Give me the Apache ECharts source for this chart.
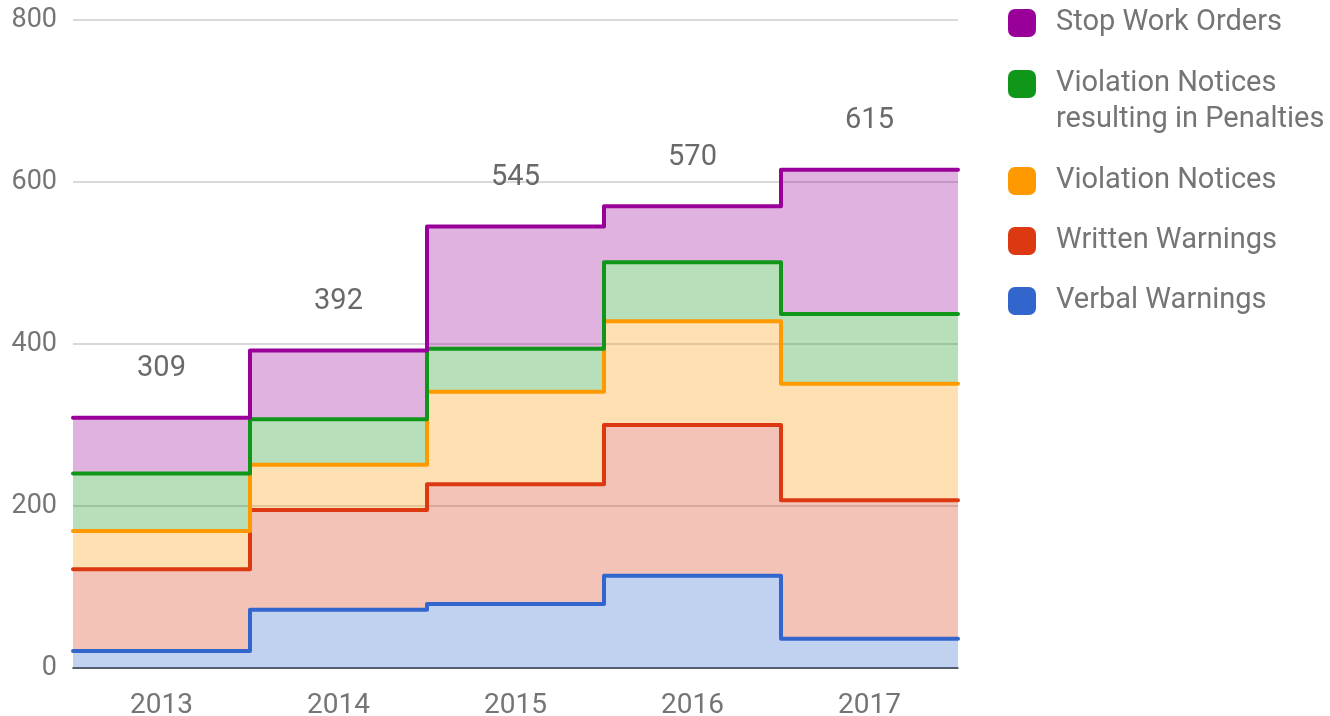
<!DOCTYPE html>
<html>
<head>
<meta charset="utf-8">
<script src="https://cdn.jsdelivr.net/npm/echarts@6/dist/echarts.min.js"></script>
<style>html,body{margin:0;padding:0;background:#fff}#c{width:1330px;height:716px}</style>
</head>
<body>
<div id="c"></div>
<script>
const years = ['2013', '2014', '2015', '2016', '2017'];
const verbalWarnings = [21, 72, 79, 114, 36];
const writtenWarnings = [101, 123, 148, 186, 171];
const violationNotices = [47, 56, 114, 128, 144];
const violationPenalties = [71, 56, 53, 73, 86];
const stopWorkOrders = [69, 85, 151, 69, 178];
const totals = [309, 392, 545, 570, 615];
const yTicks = [0, 200, 400, 600, 800];

const names = ['Stop Work Orders', 'Violation Notices resulting in Penalties', 'Violation Notices', 'Written Warnings', 'Verbal Warnings'];
const colors = {
  'Stop Work Orders': '#990099',
  'Violation Notices resulting in Penalties': '#109618',
  'Violation Notices': '#ff9900',
  'Written Warnings': '#dc3912',
  'Verbal Warnings': '#3366cc'
};
const FONT = 'Roboto';

// step edges: one point per band start, plus the closing edge of the last band
const edges = years.map((y, i) => String(i)).concat([String(years.length)]);
function stepData(arr) {
  return arr.concat([arr[arr.length - 1]]);
}
function areaSeries(name, arr) {
  return {
    name: name, type: 'line', xAxisIndex: 1, yAxisIndex: 0, stack: 'total', step: 'end',
    data: stepData(arr), showSymbol: false, symbol: 'none', color: colors[name],
    lineStyle: { width: 4, color: colors[name], cap: 'round', join: 'round' },
    areaStyle: { color: colors[name], opacity: 0.3 },
    emphasis: { disabled: true }
  };
}
const legendTops = [5, 30, 163, 223, 283];
const legends = names.map((n, i) => ({
  data: [n], orient: 'vertical', left: 1008, top: legendTops[i], padding: 0,
  itemWidth: 28, itemHeight: 28, icon: 'roundRect', selectedMode: false,
  formatter: n === 'Violation Notices resulting in Penalties' ? '\nViolation Notices\nresulting in Penalties' : '{name}',
  textStyle: { fontFamily: FONT, fontSize: 29, color: '#757575', lineHeight: 36, padding: [0, 0, 0, 15] }
}));

const chart = echarts.init(document.getElementById('c'), null, { renderer: 'canvas' });
chart.setOption({
  animation: false,
  backgroundColor: '#fff',
  grid: { left: 73, right: 372, top: 20, bottom: 48, containLabel: false, outerBoundsMode: 'none' },
  legend: legends,
  xAxis: [
    { type: 'category', data: years, boundaryGap: true,
      axisTick: { show: false },
      axisLine: { lineStyle: { color: '#333', width: 1.5 } },
      axisLabel: { fontFamily: FONT, fontSize: 28, color: '#757575', margin: 24 },
      splitLine: { show: false } },
    { type: 'category', data: edges, boundaryGap: false, show: false, splitLine: { show: false } }
  ],
  yAxis: [{
    type: 'value', min: yTicks[0], max: yTicks[yTicks.length - 1], interval: 200,
    axisLine: { show: false }, axisTick: { show: false },
    axisLabel: { fontFamily: FONT, fontSize: 27, color: '#757575', margin: 16, padding: [8, 0, 0, 0] },
    splitLine: { lineStyle: { color: '#cccccc', width: 1.5 } }
  }],
  series: [
    areaSeries('Verbal Warnings', verbalWarnings),
    areaSeries('Written Warnings', writtenWarnings),
    areaSeries('Violation Notices', violationNotices),
    areaSeries('Violation Notices resulting in Penalties', violationPenalties),
    areaSeries('Stop Work Orders', stopWorkOrders),
    {
      name: 'Total', type: 'scatter', xAxisIndex: 0, yAxisIndex: 0,
      data: totals, symbolSize: 1, itemStyle: { color: 'rgba(0,0,0,0)' }, silent: true,
      label: { show: true, position: 'top', distance: 34, fontFamily: FONT, fontSize: 29, color: '#444444' },
      z: 10
    }
  ]
});
</script>
</body>
</html>
